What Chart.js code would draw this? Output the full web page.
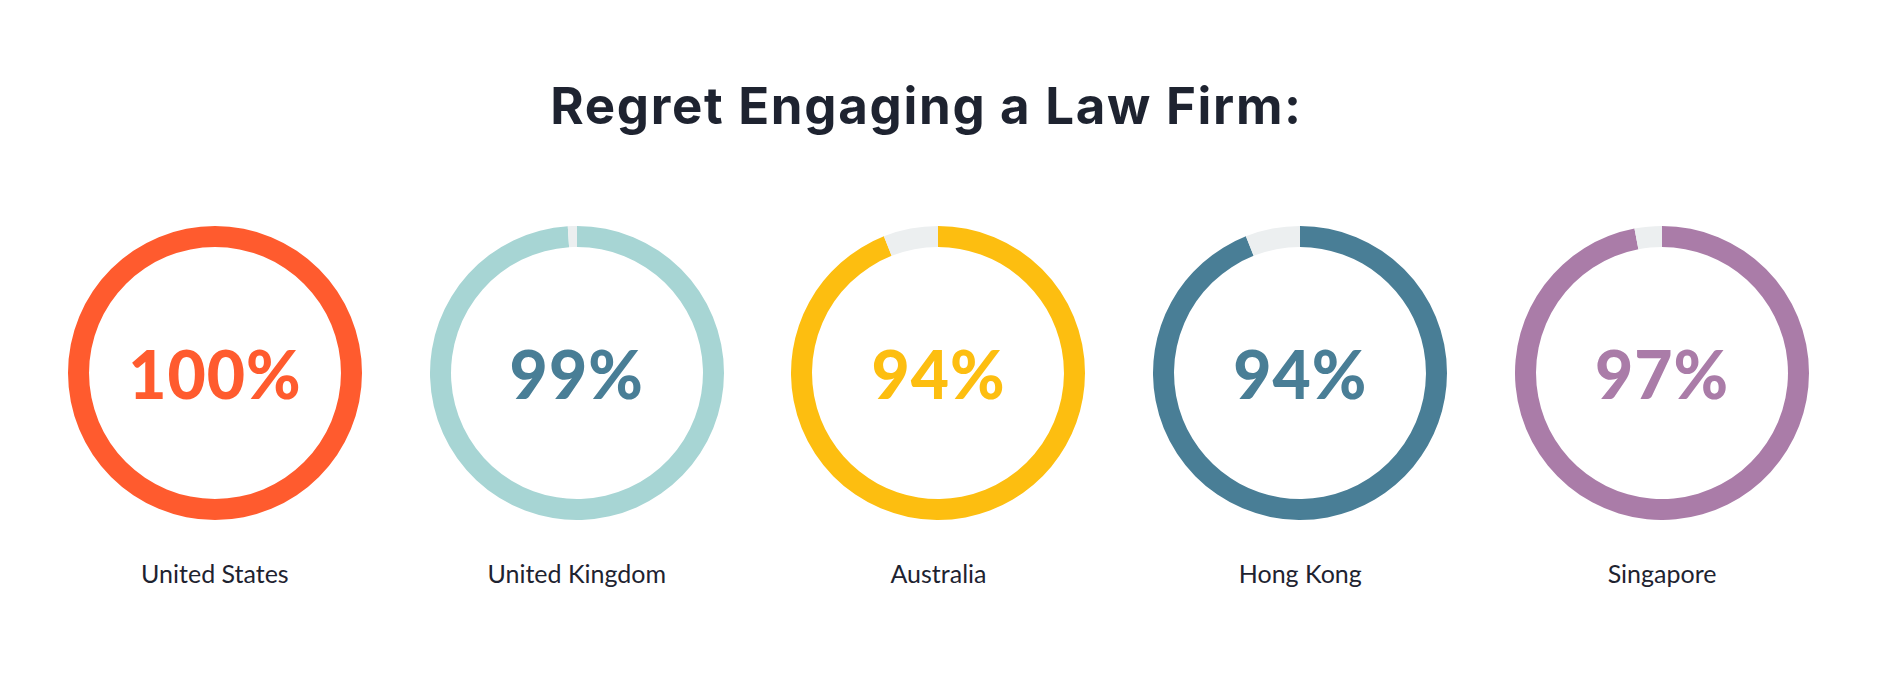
<!DOCTYPE html>
<html>
<head>
<meta charset="utf-8">
<script src="https://cdn.jsdelivr.net/npm/chart.js@4"></script>
<style>
  body { margin: 0; background: #ffffff; width: 1877px; height: 680px; overflow: hidden; position: relative; font-family: 'Lato', sans-serif; }
  #title { position: absolute; left: -12px; width: 1877px; top: 73px; text-align: center; font-family: 'Inter', sans-serif; font-size: 51px; font-weight: 700; color: #1e2330; line-height: 66px; letter-spacing: 1.7px; }
  #row { position: absolute; left: 34px; width: 1809px; top: 0; height: 680px; display: flex; }
  .col { flex: 1; position: relative; }
  .ring { position: absolute; left: 50%; top: 226px; width: 294px; height: 294px; margin-left: -147px; }
  .pct { position: absolute; left: 0; width: 100%; top: 336px; text-align: center; font-size: 66px; font-weight: 900; line-height: 76px; letter-spacing: 1px; }
  .lbl { position: absolute; left: 0; width: 100%; top: 558px; text-align: center; font-size: 25px; color: #1e2330; line-height: 30px; }
</style>
</head>
<body>
<div id="title">Regret Engaging a Law Firm:</div>
<div id="row"></div>
<script>
let countries = ['United States', 'United Kingdom', 'Australia', 'Hong Kong', 'Singapore'];
let regret = [100, 99, 94, 94, 97];
let ringColors = ['#ff5b2e', '#a7d5d4', '#fdbe10', '#497e96', '#aa7ca8'];
let textColors = ['#ff5b2e', '#497e96', '#fdbe10', '#497e96', '#aa7ca8'];
let restColor = '#eceff0';

let row = document.getElementById('row');
for (let i = 0; i < countries.length; i++) {
    let col = document.createElement('div');
    col.className = 'col';
    col.innerHTML = '<div class="ring"><canvas id="c' + i + '"></canvas></div>' +
        '<div class="pct" style="color:' + textColors[i] + '">' + regret[i] + '%</div>' +
        '<div class="lbl">' + countries[i] + '</div>';
    row.appendChild(col);

    new Chart(document.getElementById('c' + i), {
        type: 'doughnut',
        data: {
            labels: ['Regret', 'No regret'],
            datasets: [{
                data: [regret[i], 100 - regret[i]],
                backgroundColor: [ringColors[i], restColor],
                borderWidth: 0
            }]
        },
        options: {
            responsive: true,
            maintainAspectRatio: false,
            animation: false,
            events: [],
            cutout: '85.7%',
            layout: { padding: 0 },
            plugins: { legend: { display: false }, tooltip: { enabled: false } }
        }
    });
}
</script>
</body>
</html>
